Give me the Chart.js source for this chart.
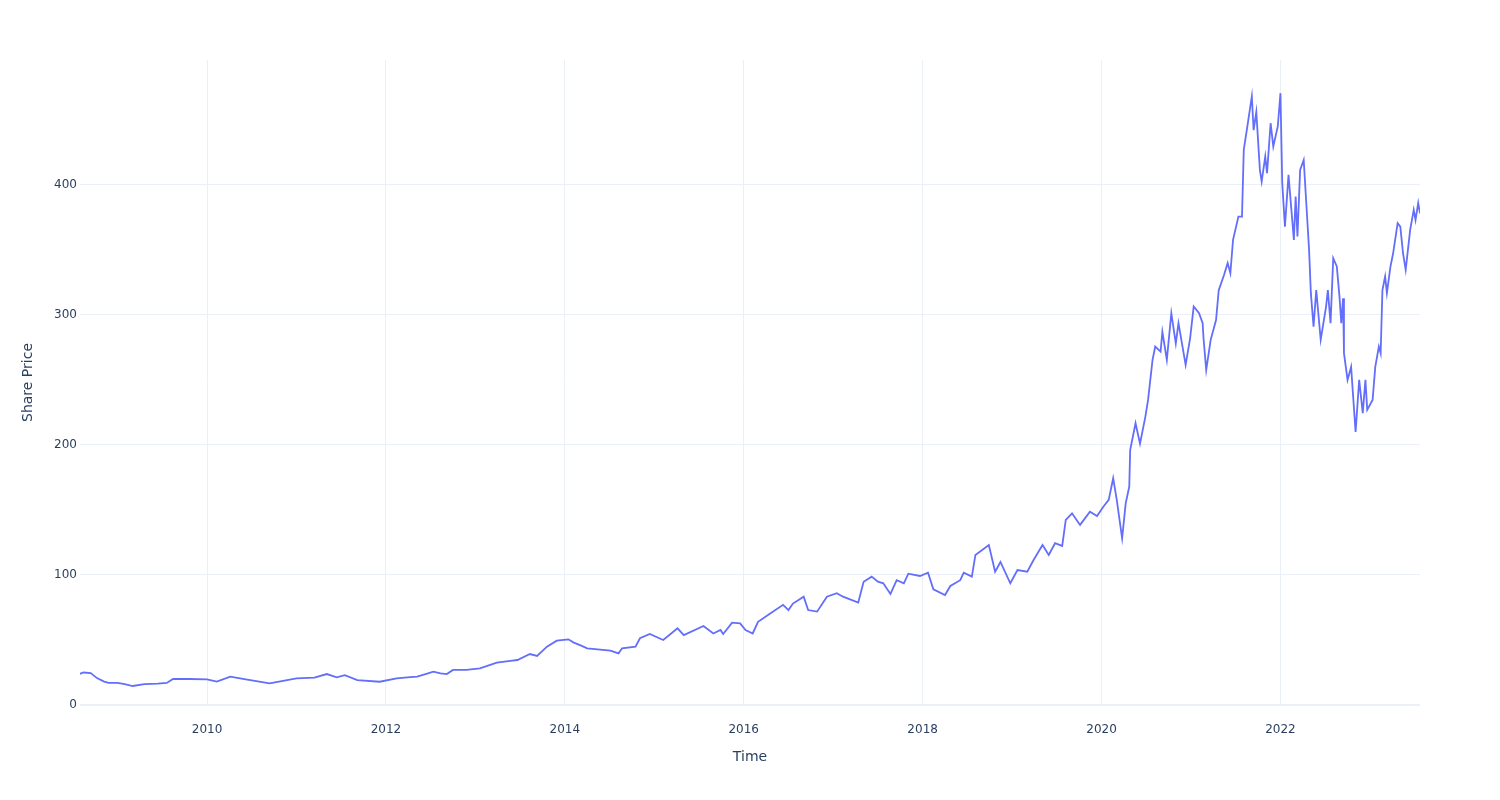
<!DOCTYPE html>
<html>
<head>
<meta charset="utf-8">
<script src="https://cdn.jsdelivr.net/npm/chart.js@4"></script>
<style>
  body { margin: 0; background: #fff; }
  #wrap { width: 1500px; height: 800px; }
</style>
</head>
<body>
<div id="wrap"><canvas id="priceChart" width="1500" height="800"></canvas></div>
<script>
// time as decimal year
const times = [
    2008.58, 2008.62, 2008.70, 2008.77, 2008.85, 2008.90, 2009.00, 2009.08, 2009.17, 2009.30,
    2009.45, 2009.55, 2009.62, 2009.80, 2010.00, 2010.11, 2010.26, 2010.45, 2010.70, 2010.85,
    2011.00, 2011.20, 2011.34, 2011.45, 2011.54, 2011.68, 2011.93, 2012.12, 2012.27, 2012.35,
    2012.47, 2012.53, 2012.61, 2012.68, 2012.75, 2012.90, 2013.05, 2013.24, 2013.39, 2013.47,
    2013.61, 2013.69, 2013.80, 2013.91, 2014.04, 2014.10, 2014.17, 2014.25, 2014.51, 2014.60,
    2014.64, 2014.79, 2014.84, 2014.95, 2015.10, 2015.26, 2015.33, 2015.55, 2015.66, 2015.74,
    2015.77, 2015.87, 2015.96, 2016.02, 2016.10, 2016.16, 2016.30, 2016.44, 2016.50, 2016.55,
    2016.67, 2016.72, 2016.82, 2016.93, 2017.04, 2017.11, 2017.28, 2017.34, 2017.43, 2017.50,
    2017.56, 2017.64, 2017.71, 2017.79, 2017.84, 2017.97, 2018.06, 2018.12, 2018.25, 2018.31,
    2018.42, 2018.46, 2018.55, 2018.59, 2018.74, 2018.81, 2018.87, 2018.98, 2019.06, 2019.17,
    2019.24, 2019.34, 2019.41, 2019.48, 2019.56, 2019.60, 2019.67, 2019.76, 2019.87, 2019.95,
    2020.02, 2020.08, 2020.13, 2020.17, 2020.23, 2020.27, 2020.31, 2020.32, 2020.38, 2020.43,
    2020.49, 2020.52, 2020.57, 2020.60, 2020.66, 2020.68, 2020.73, 2020.78, 2020.83, 2020.86,
    2020.94, 2020.99, 2021.03, 2021.09, 2021.13, 2021.14, 2021.17, 2021.22, 2021.28, 2021.31,
    2021.37, 2021.41, 2021.44, 2021.47, 2021.53, 2021.57, 2021.59, 2021.63, 2021.68, 2021.70,
    2021.73, 2021.77, 2021.79, 2021.83, 2021.85, 2021.89, 2021.92, 2021.97, 2022.00, 2022.02,
    2022.05, 2022.09, 2022.15, 2022.17, 2022.19, 2022.22, 2022.26, 2022.30, 2022.32, 2022.34,
    2022.37, 2022.40, 2022.45, 2022.51, 2022.53, 2022.56, 2022.59, 2022.63, 2022.66, 2022.68,
    2022.70, 2022.71, 2022.75, 2022.79, 2022.81, 2022.84, 2022.88, 2022.92, 2022.95, 2022.97,
    2023.03, 2023.06, 2023.10, 2023.12, 2023.14, 2023.17, 2023.19, 2023.23, 2023.26, 2023.31,
    2023.34, 2023.37, 2023.40, 2023.45, 2023.49, 2023.51, 2023.54, 2023.56
];

const prices = [
    24, 25, 24.5, 20.7, 18, 17, 17, 16, 14.6, 16,
    16.5, 17, 20, 20, 19.7, 18, 21.8, 19.5, 16.7, 18.5,
    20.5, 21, 23.8, 21.3, 23, 19.2, 17.9, 20.5, 21.5, 21.8,
    24.4, 25.6, 24.4, 23.8, 27, 27, 28.2, 32.6, 34, 34.6,
    39.2, 37.7, 44.9, 49.5, 50.5, 48, 46, 43.6, 41.8, 39.7,
    43.6, 44.9, 51.3, 54.6, 50, 59, 53.8, 60.8, 55, 57.7,
    54.6, 63.3, 62.8, 57.7, 55, 64, 70.5, 77, 73, 78,
    83.3, 73, 71.8, 83.3, 86, 83.3, 78.7, 94.8, 98.7, 94.8,
    93.6, 85.4, 96, 93.6, 101, 99.2, 101.8, 89, 84.6, 91.5,
    96, 101.8, 98.7, 115.4, 123, 102.5, 110, 93.6, 103.8, 102.5,
    111.5, 123, 115.4, 124.4, 122.3, 142.3, 147.4, 138.5, 148.7, 145.4,
    152.5, 157.7, 174.4, 157.7, 128.2, 155, 168, 196, 216.7, 201,
    221.8, 234.6, 265.4, 275.6, 271.8, 287, 265.4, 301.3, 278, 293.6,
    261.5, 282, 306.4, 301.3, 293.6, 282, 257.7, 280.8, 296, 319,
    330.8, 339.8, 332, 357.7, 375.6, 375.6, 427, 444.9, 468, 442,
    456, 411.5, 402.5, 421.8, 409, 447.4, 429.5, 444.9, 470.5, 401.3,
    367.9, 407.7, 357.7, 391, 360.3, 411.5, 419.2, 373, 350, 316.7,
    291, 319, 280.8, 306.4, 319, 293.6, 343.6, 337.2, 314, 293.6,
    312.8, 270.5, 250, 260, 239.8, 210, 250, 224.4, 250, 227,
    234.6, 260, 275.6, 270.5, 319, 329.5, 316.7, 337.2, 347.5, 370.5,
    367.9, 347.5, 334.6, 365.4, 380.8, 373, 386, 378
];

const xTicks = [2010, 2012, 2014, 2016, 2018, 2020, 2022];
const yTicks = [0, 100, 200, 300, 400];

const gridColor = '#ebf0f8';
const textColor = '#2a3f5f';

Chart.defaults.font.family = "'DejaVu Sans', sans-serif";
Chart.defaults.color = textColor;

const ctx = document.getElementById('priceChart').getContext('2d');

new Chart(ctx, {
    type: 'line',
    data: {
        datasets: [{
            data: times.map((t, i) => ({ x: t, y: prices[i] })),
            borderColor: '#636efa',
            borderWidth: 1.8,
            pointRadius: 0,
            tension: 0,
            fill: false
        }]
    },
    options: {
        responsive: false,
        animation: false,
        layout: { padding: { left: 0, right: 80, top: 60, bottom: 0 } },
        plugins: {
            legend: { display: false },
            tooltip: { enabled: false }
        },
        scales: {
            x: {
                type: 'linear',
                min: times[0],
                max: times[times.length - 1],
                afterBuildTicks: (scale) => { scale.ticks = xTicks.map(v => ({ value: v })); },
                afterFit: (scale) => { scale.height = 95; },
                border: { display: false },
                grid: { color: gridColor, lineWidth: 1, drawTicks: false },
                ticks: {
                    padding: 18,
                    font: { size: 12 },
                    callback: (v) => String(v)
                },
                title: {
                    display: true,
                    text: 'Time',
                    font: { size: 14 },
                    padding: { top: 0, bottom: 34 }
                }
            },
            y: {
                min: 0,
                max: 496,
                afterBuildTicks: (scale) => { scale.ticks = yTicks.map(v => ({ value: v })); },
                afterFit: (scale) => { scale.width = 80; },
                border: { display: false },
                grid: {
                    color: gridColor,
                    lineWidth: (c) => (c.tick && c.tick.value === 0 ? 2 : 1),
                    drawTicks: false
                },
                ticks: {
                    padding: 3,
                    font: { size: 12 },
                    callback: (v) => String(v)
                },
                title: {
                    display: true,
                    text: 'Share Price',
                    font: { size: 14 },
                    padding: { top: 20, bottom: 0 }
                }
            }
        }
    }
});
</script>
</body>
</html>
